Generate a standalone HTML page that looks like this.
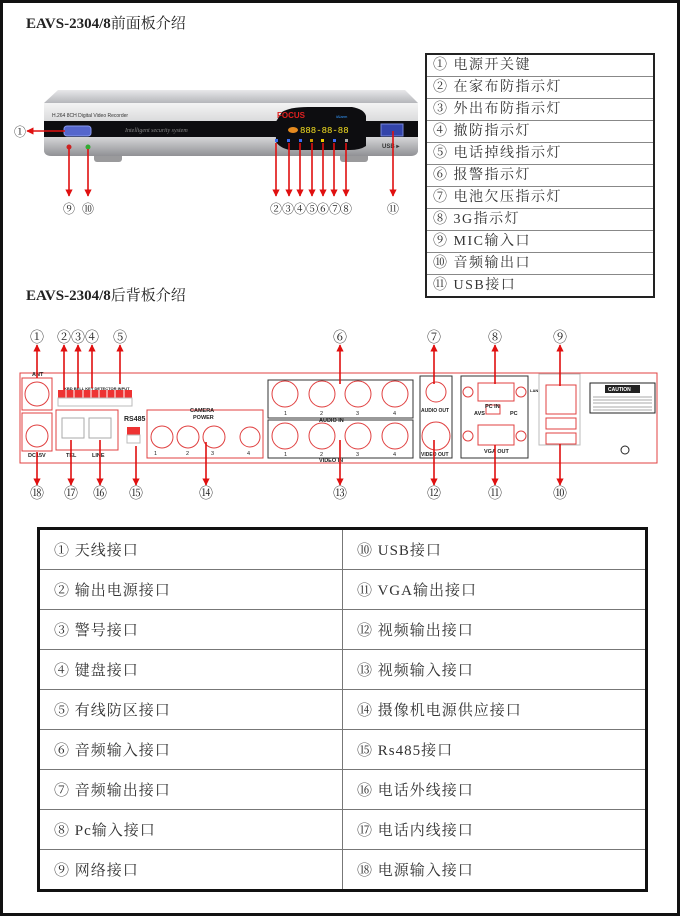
<!DOCTYPE html>
<html><head><meta charset="utf-8"><style>
html,body{margin:0;padding:0;background:#fff}
body{width:680px;height:916px;position:relative;overflow:hidden;font-family:"Liberation Serif","Noto Serif CJK SC",serif}
.frame{position:absolute;left:0;top:0;width:674px;height:910px;border:3px solid #111}
.t{position:absolute;font-size:15px;color:#222}
.t b{font-family:"Liberation Serif",serif}
table{border-collapse:collapse;position:absolute}
.ft{left:425px;top:53px;width:230px;border:2px solid #222}
.ft td{height:21px;border:1px solid #888;padding:0 0 0 6px;font-size:14px;color:#333;letter-spacing:1.5px;line-height:21px}
.bt{left:37px;top:527px;width:611px;border:3px solid #111}
.bt td{height:39px;border:1px solid #777;padding:0 0 0 14px;font-size:15px;color:#333;letter-spacing:1px;width:50%}
svg{position:absolute;left:0;top:0}
</style></head><body>
<div class="frame"></div>
<div class="t" style="left:26px;top:12px"><b>EAVS-2304/8</b>前面板介绍</div>
<div class="t" style="left:26px;top:284px"><b>EAVS-2304/8</b>后背板介绍</div>

<table class="ft">
<tr><td>① 电源开关键</td></tr><tr><td>② 在家布防指示灯</td></tr><tr><td>③ 外出布防指示灯</td></tr><tr><td>④ 撤防指示灯</td></tr><tr><td>⑤ 电话掉线指示灯</td></tr><tr><td>⑥ 报警指示灯</td></tr><tr><td>⑦ 电池欠压指示灯</td></tr><tr><td>⑧ 3G指示灯</td></tr><tr><td>⑨ MIC输入口</td></tr><tr><td>⑩ 音频输出口</td></tr><tr><td>⑪ USB接口</td></tr>
</table>

<table class="bt">
<tr><td>① 天线接口</td><td>⑩ USB接口</td></tr>
<tr><td>② 输出电源接口</td><td>⑪ VGA输出接口</td></tr>
<tr><td>③ 警号接口</td><td>⑫ 视频输出接口</td></tr>
<tr><td>④ 键盘接口</td><td>⑬ 视频输入接口</td></tr>
<tr><td>⑤ 有线防区接口</td><td>⑭ 摄像机电源供应接口</td></tr>
<tr><td>⑥ 音频输入接口</td><td>⑮ Rs485接口</td></tr>
<tr><td>⑦ 音频输出接口</td><td>⑯ 电话外线接口</td></tr>
<tr><td>⑧ Pc输入接口</td><td>⑰ 电话内线接口</td></tr>
<tr><td>⑨ 网络接口</td><td>⑱ 电源输入接口</td></tr>
</table>

<svg width="680" height="916" viewBox="0 0 680 916" font-family="Liberation Sans, sans-serif">
<defs>
<linearGradient id="top" x1="0" y1="0" x2="0" y2="1"><stop offset="0" stop-color="#e8e8ea"/><stop offset="1" stop-color="#b5b6ba"/></linearGradient>
<linearGradient id="silv" x1="0" y1="0" x2="0" y2="1"><stop offset="0" stop-color="#f4f4f4"/><stop offset="1" stop-color="#a9aaae"/></linearGradient>
<linearGradient id="silv2" x1="0" y1="0" x2="0" y2="1"><stop offset="0" stop-color="#d8d8da"/><stop offset="1" stop-color="#8d8e92"/></linearGradient>
<marker id="ar" viewBox="0 0 10 10" refX="9" refY="5" markerWidth="4.5" markerHeight="4.5" orient="auto"><path d="M0,0L10,5L0,10z" fill="#e01010"/></marker>
</defs>
<path d="M58,90 L405,90 L418,103 L44,103 Z" fill="url(#top)"/>
<rect x="94" y="152" width="28" height="10" rx="3" fill="#9a9a9c"/>
<rect x="340" y="152" width="28" height="10" rx="3" fill="#9a9a9c"/>
<path d="M44,103 L418,103 L418,150 Q418,156 410,156 L52,156 Q44,156 44,150 Z" fill="url(#silv)"/>
<rect x="44" y="121" width="374" height="16" fill="#0d0d10"/>
<path d="M282,112 Q290,107 308,107 L352,107 Q364,109 366,116 L366,146 Q360,150 350,150 L290,150 Q280,148 276,142 L272,128 Z" fill="#0d0d10"/>
<path d="M44,137 L418,137 L418,150 Q418,156 410,156 L52,156 Q44,156 44,150 Z" fill="url(#silv2)" opacity=".9"/>
<path d="M276,137 L366,137 L366,146 Q360,150 350,150 L290,150 Q280,148 276,142 Z" fill="#0d0d10"/>
<text x="52" y="117" font-size="5" fill="#333">H.264 8CH Digital Video Recorder</text>
<text x="125" y="132" font-size="6" fill="#888" font-style="italic" font-family="Liberation Serif,serif">Intelligent security system</text>
<rect x="64" y="126" width="27" height="10" rx="3" fill="#5566cc" stroke="#8899ee"/>
<circle cx="69" cy="147" r="2.5" fill="#c22"/><circle cx="88" cy="147" r="2.5" fill="#3a3"/>
<text x="277" y="118" font-size="8" font-weight="bold" fill="#e02020">FOCUS</text>
<text x="336" y="118" font-size="4" fill="#39f">iAlarm</text>
<ellipse cx="293" cy="130" rx="5" ry="3" fill="#e58a1f"/>
<text x="300" y="133" font-size="9" fill="#f5e020" font-family="Liberation Mono,monospace">888-88-88</text>
<g fill="#3a6cf0"><rect x="275" y="139" width="3" height="3"/><rect x="287" y="139" width="3" height="3"/><rect x="299" y="139" width="3" height="3"/><rect x="310" y="139" width="3" height="3" fill="#c90"/><rect x="321" y="139" width="3" height="3" fill="#ec0"/><rect x="333" y="139" width="3" height="3"/><rect x="345" y="139" width="3" height="3" fill="#aaa"/></g>
<rect x="381" y="124" width="22" height="12" fill="#3344aa" stroke="#7788dd"/>
<text x="382" y="148" font-size="6" font-weight="bold" fill="#333">USB ▸</text>
<g stroke="#e01010" stroke-width="1.6" marker-end="url(#ar)">
<line x1="65" y1="131" x2="27" y2="131"/>
<line x1="69" y1="149" x2="69" y2="196"/><line x1="88" y1="149" x2="88" y2="196"/>
<line x1="276" y1="143" x2="276" y2="196"/><line x1="289" y1="143" x2="289" y2="196"/><line x1="300" y1="143" x2="300" y2="196"/><line x1="312" y1="143" x2="312" y2="196"/><line x1="323" y1="143" x2="323" y2="196"/><line x1="334" y1="143" x2="334" y2="196"/><line x1="346" y1="143" x2="346" y2="196"/>
<line x1="393" y1="131" x2="393" y2="196"/>
</g>
<g font-size="12" fill="#222" text-anchor="middle" font-family="Liberation Serif,Noto Serif CJK SC,serif">
<text x="20" y="136">①</text><text x="69" y="213">⑨</text><text x="88" y="213">⑩</text>
<text x="276" y="213">②</text><text x="288" y="213">③</text><text x="300" y="213">④</text><text x="312" y="213">⑤</text><text x="323" y="213">⑥</text><text x="335" y="213">⑦</text><text x="346" y="213">⑧</text><text x="393" y="213">⑪</text>
</g>
<g fill="none" stroke="#e04040" stroke-width="1">
<rect x="20" y="373" width="637" height="90"/>
<rect x="22" y="378" width="30" height="32"/><circle cx="37" cy="394" r="12"/>
<rect x="22" y="413" width="30" height="38"/><circle cx="37" cy="436" r="11"/>
<rect x="56" y="410" width="62" height="40"/>
<rect x="62" y="418" width="22" height="20" stroke="#aaa"/><rect x="89" y="418" width="22" height="20" stroke="#aaa"/>
<rect x="147" y="410" width="116" height="48"/>
<circle cx="162" cy="437" r="11"/><circle cx="188" cy="437" r="11"/><circle cx="214" cy="437" r="11"/><circle cx="250" cy="437" r="10"/>
<rect x="268" y="380" width="145" height="38" stroke="#333"/><rect x="268" y="420" width="145" height="38" stroke="#333"/>
<circle cx="285" cy="394" r="13"/><circle cx="322" cy="394" r="13"/><circle cx="358" cy="394" r="13"/><circle cx="395" cy="394" r="13"/>
<circle cx="285" cy="436" r="13"/><circle cx="322" cy="436" r="13"/><circle cx="358" cy="436" r="13"/><circle cx="395" cy="436" r="13"/>
<rect x="420" y="376" width="32" height="82" stroke="#333"/><circle cx="436" cy="392" r="10"/><circle cx="436" cy="436" r="14"/>
<rect x="461" y="376" width="67" height="82" stroke="#333"/>
<rect x="478" y="383" width="36" height="18"/><rect x="478" y="425" width="36" height="20"/><rect x="486" y="405" width="14" height="9"/>
<circle cx="468" cy="392" r="5"/><circle cx="521" cy="392" r="5"/><circle cx="468" cy="436" r="5"/><circle cx="521" cy="436" r="5"/>
<rect x="539" y="374" width="41" height="71" stroke="#bbb"/>
<rect x="546" y="385" width="30" height="29"/><rect x="546" y="418" width="30" height="11"/><rect x="546" y="433" width="30" height="11"/>
</g>
<g fill="#e33"><rect x="58" y="390" width="74" height="8"/></g>
<g stroke="#fff" stroke-width="1"><line x1="66" y1="390" x2="66" y2="406"/><line x1="74" y1="390" x2="74" y2="406"/><line x1="83" y1="390" x2="83" y2="406"/><line x1="91" y1="390" x2="91" y2="406"/><line x1="99" y1="390" x2="99" y2="406"/><line x1="107" y1="390" x2="107" y2="406"/><line x1="115" y1="390" x2="115" y2="406"/><line x1="124" y1="390" x2="124" y2="406"/></g>
<rect x="58" y="398" width="74" height="8" fill="none" stroke="#bbb"/>
<rect x="127" y="427" width="13" height="8" fill="#e33"/><rect x="127" y="435" width="13" height="8" fill="none" stroke="#bbb"/>
<rect x="590" y="383" width="65" height="30" fill="none" stroke="#222"/><rect x="605" y="385" width="35" height="8" fill="#222"/>
<g stroke="#555" stroke-width=".5"><line x1="593" y1="397" x2="652" y2="397"/><line x1="593" y1="400" x2="652" y2="400"/><line x1="593" y1="403" x2="652" y2="403"/><line x1="593" y1="407" x2="652" y2="407"/><line x1="593" y1="410" x2="652" y2="410"/></g>
<circle cx="625" cy="450" r="4" fill="none" stroke="#222"/>
<g font-size="5.5" fill="#222" font-weight="bold">
<text x="32" y="376">ANT</text><text x="28" y="457">DC15V</text><text x="64" y="390" font-size="4">KBD BELL KEY DETECTOR INPUT</text>
<text x="66" y="457">TEL</text><text x="92" y="457">LINE</text><text x="124" y="421" font-size="7">RS485</text>
<text x="190" y="412">CAMERA</text><text x="193" y="419">POWER</text>
<text x="319" y="422">AUDIO IN</text><text x="319" y="462">VIDEO IN</text>
<text x="421" y="412" font-size="5">AUDIO OUT</text><text x="421" y="456" font-size="5">VIDEO OUT</text>
<text x="485" y="408">PC IN</text><text x="474" y="415">AVS</text><text x="510" y="415">PC</text><text x="484" y="453">VGA OUT</text>
<text x="530" y="392" font-size="4">LAN</text><text x="608" y="391" fill="#fff" font-size="5">CAUTION</text>
<text x="154" y="455" font-weight="normal">1</text><text x="186" y="455" font-weight="normal">2</text><text x="211" y="455" font-weight="normal">3</text><text x="247" y="455" font-weight="normal">4</text>
<text x="284" y="415" font-weight="normal">1</text><text x="320" y="415" font-weight="normal">2</text><text x="356" y="415" font-weight="normal">3</text><text x="393" y="415" font-weight="normal">4</text>
<text x="284" y="456" font-weight="normal">1</text><text x="320" y="456" font-weight="normal">2</text><text x="356" y="456" font-weight="normal">3</text><text x="393" y="456" font-weight="normal">4</text>
</g>
<g stroke="#e01010" stroke-width="1.6" marker-end="url(#ar)">
<line x1="37" y1="378" x2="37" y2="345"/><line x1="64" y1="390" x2="64" y2="345"/><line x1="78" y1="388" x2="78" y2="345"/><line x1="92" y1="388" x2="92" y2="345"/><line x1="120" y1="384" x2="120" y2="345"/>
<line x1="340" y1="384" x2="340" y2="345"/><line x1="434" y1="384" x2="434" y2="345"/><line x1="495" y1="384" x2="495" y2="345"/><line x1="560" y1="386" x2="560" y2="345"/>
<line x1="37" y1="452" x2="37" y2="485"/><line x1="71" y1="440" x2="71" y2="485"/><line x1="100" y1="440" x2="100" y2="485"/><line x1="136" y1="446" x2="136" y2="485"/><line x1="206" y1="442" x2="206" y2="485"/>
<line x1="340" y1="440" x2="340" y2="485"/><line x1="434" y1="440" x2="434" y2="485"/><line x1="495" y1="445" x2="495" y2="485"/><line x1="560" y1="444" x2="560" y2="485"/>
</g>
<g font-size="14" fill="#222" text-anchor="middle" font-family="Liberation Serif,Noto Serif CJK SC,serif">
<text x="37" y="342">①</text><text x="64" y="342">②</text><text x="78" y="342">③</text><text x="92" y="342">④</text><text x="120" y="342">⑤</text>
<text x="340" y="342">⑥</text><text x="434" y="342">⑦</text><text x="495" y="342">⑧</text><text x="560" y="342">⑨</text>
<text x="37" y="498">⑱</text><text x="71" y="498">⑰</text><text x="100" y="498">⑯</text><text x="136" y="498">⑮</text><text x="206" y="498">⑭</text>
<text x="340" y="498">⑬</text><text x="434" y="498">⑫</text><text x="495" y="498">⑪</text><text x="560" y="498">⑩</text>
</g>
</svg>
</body></html>
